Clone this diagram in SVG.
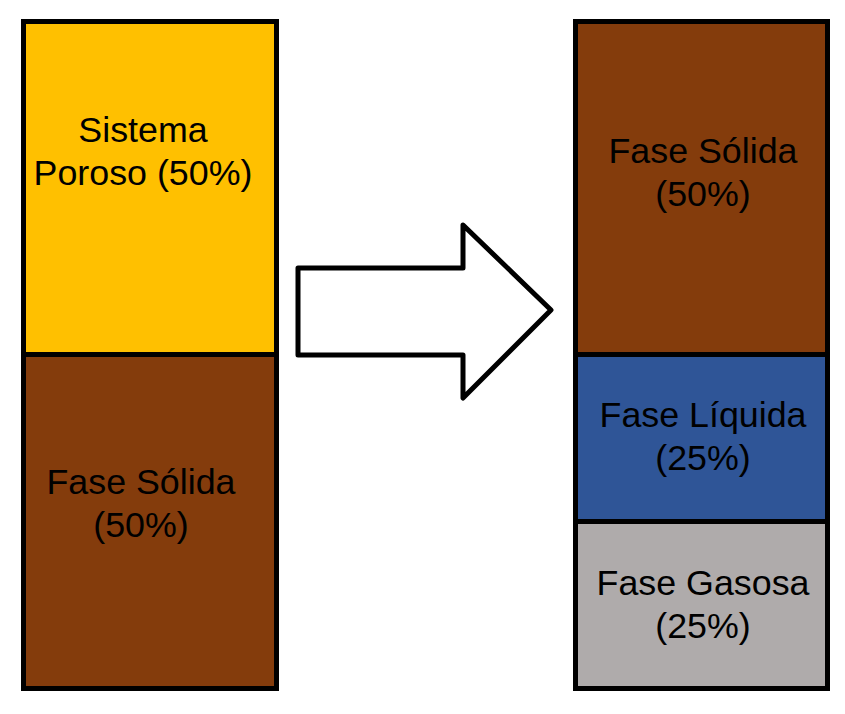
<svg xmlns="http://www.w3.org/2000/svg" width="845" height="714" viewBox="0 0 845 714">
<style>
.box{stroke:#000;stroke-width:5}
text{font-family:"Liberation Sans",Arial,sans-serif;font-size:35.8px;fill:#000;text-anchor:middle}
</style>
<rect width="845" height="714" fill="#fff"/>
<g id="poroso">
<rect class="box" x="23.5" y="21.5" width="253" height="333" fill="#FFC000"/>
<text x="143" y="142">Sistema</text>
<text x="143" y="185">Poroso (50%)</text>
</g>
<g id="solida-left">
<rect class="box" x="23.5" y="354.5" width="253" height="334" fill="#843C0C"/>
<text x="141" y="494">Fase Sólida</text>
<text x="141" y="537">(50%)</text>
</g>
<g id="solida-right">
<rect class="box" x="575.5" y="21.5" width="252" height="333" fill="#843C0C"/>
<text x="703" y="163">Fase Sólida</text>
<text x="703" y="206">(50%)</text>
</g>
<g id="liquida">
<rect class="box" x="575.5" y="354.5" width="252" height="167" fill="#2F5597"/>
<text x="703" y="427">Fase Líquida</text>
<text x="703" y="470">(25%)</text>
</g>
<g id="gasosa">
<rect class="box" x="575.5" y="521.5" width="252" height="167" fill="#AFABAB"/>
<text x="703" y="595">Fase Gasosa</text>
<text x="703" y="638">(25%)</text>
</g>
<g id="connectors">
<polygon points="298,268 463,268 463,225 551,310 463,398 463,355 298,355" fill="#fff" stroke="#000" stroke-width="5" stroke-linejoin="round"/>
</g>
</svg>
